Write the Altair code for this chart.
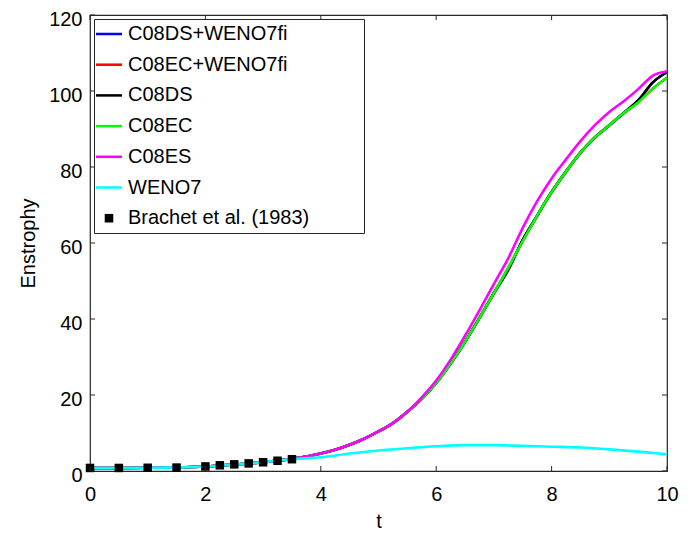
import altair as alt
import pandas as pd

# ---------------- data ----------------
series_names = ["C08DS+WENO7fi", "C08EC+WENO7fi", "C08DS", "C08EC", "C08ES", "WENO7",
                "Brachet et al. (1983)"]
series_colors = ["#0000FF", "#FF0000", "#000000", "#00FF00", "#FF00FF", "#00FFFF", "#000000"]

t_main = [0, 0.5, 1, 1.5, 2, 2.5, 3, 3.5, 4, 4.25, 4.5, 4.75, 5, 5.25, 5.5, 5.75,
          6, 6.25, 6.5, 6.75, 7, 7.25, 7.5, 7.75, 8, 8.25, 8.5, 8.75, 9, 9.25, 9.5, 9.75, 10]

c08ds_weno7fi = [0.8, 0.8, 0.85, 0.95, 1.2, 1.7, 2.3, 3.2, 4.6, 5.6, 6.9, 8.5, 10.4, 12.6, 15.6, 19.0,
                 23.2, 28.3, 34.0, 40.3, 46.8, 53.0, 60.8, 67.2, 73.4, 78.8, 83.8, 87.8, 91.0, 94.2, 97.5, 102.2, 105.0]
c08ec_weno7fi = [0.8, 0.8, 0.85, 0.95, 1.2, 1.7, 2.3, 3.2, 4.6, 5.6, 6.9, 8.5, 10.4, 12.6, 15.6, 19.0,
                 23.2, 28.3, 34.0, 40.3, 46.8, 53.5, 60.5, 67.2, 73.4, 78.8, 83.8, 87.8, 91.0, 94.2, 97.0, 100.6, 103.5]
c08ds = [0.8, 0.8, 0.85, 0.95, 1.2, 1.7, 2.3, 3.2, 4.6, 5.6, 6.9, 8.5, 10.4, 12.6, 15.6, 19.0,
         23.2, 28.3, 34.0, 40.3, 46.8, 53.0, 60.8, 67.2, 73.4, 78.8, 83.8, 87.8, 91.0, 94.2, 97.5, 102.2, 105.0]
c08ec = [0.8, 0.8, 0.85, 0.95, 1.2, 1.7, 2.3, 3.2, 4.6, 5.6, 6.9, 8.5, 10.4, 12.6, 15.6, 19.0,
         23.2, 28.3, 34.0, 40.3, 46.8, 53.5, 60.5, 67.2, 73.4, 78.8, 83.8, 87.8, 91.0, 94.2, 97.0, 100.6, 103.5]
c08es = [0.8, 0.8, 0.85, 0.95, 1.2, 1.7, 2.3, 3.2, 4.6, 5.6, 6.9, 8.5, 10.4, 12.6, 15.6, 19.4,
         23.8, 29.3, 35.6, 42.3, 49.2, 56.0, 64.0, 71.0, 77.0, 82.0, 86.8, 91.0, 94.5, 97.3, 100.5, 104.0, 105.2]

t_weno = [0, 0.5, 1, 1.5, 2, 2.5, 3, 3.5, 4, 4.5, 5, 5.5, 6, 6.5, 7, 7.5, 8, 8.5, 9, 9.5, 10]
weno7 = [0.8, 0.8, 0.85, 0.95, 1.2, 1.7, 2.3, 3.1, 3.6, 4.6, 5.4, 6.0, 6.5, 6.8, 6.8, 6.6, 6.4, 6.2, 5.7, 5.1, 4.4]

t_brachet = [0, 0.5, 1, 1.5, 2, 2.25, 2.5, 2.75, 3, 3.25, 3.5]
brachet = [0.8, 0.8, 0.85, 0.9, 1.2, 1.5, 1.75, 2.0, 2.3, 2.7, 3.1]

x_ticks = [0, 2, 4, 6, 8, 10]
y_ticks = [0, 20, 40, 60, 80, 100, 120]

# ---------------- tables ----------------
line_values = {
    "C08DS+WENO7fi": (t_main, c08ds_weno7fi),
    "C08EC+WENO7fi": (t_main, c08ec_weno7fi),
    "C08DS": (t_main, c08ds),
    "C08EC": (t_main, c08ec),
    "C08ES": (t_main, c08es),
    "WENO7": (t_weno, weno7),
}
rows = []
for name, (ts, vs) in line_values.items():
    for t, v in zip(ts, vs):
        rows.append({"series": name, "t": t, "E": v})
lines_df = pd.DataFrame(rows)
brachet_df = pd.DataFrame({"t": t_brachet, "E": brachet, "series": "Brachet et al. (1983)"})
xt_df = pd.DataFrame({"v": x_ticks})
yt_df = pd.DataFrame({"v": y_ticks})

W, H = 577, 456
FONT = "Liberation Sans"
FRAME = "#262626"

xscale = alt.Scale(domain=[0, 10], nice=False, zero=False)
yscale = alt.Scale(domain=[0, 120], nice=False, zero=False)

x_enc = alt.X("t:Q", scale=xscale,
              axis=alt.Axis(values=x_ticks, format="d", title="t", grid=False, ticks=False, tickSize=0,
                            domain=False, labelFlush=False, labelFontSize=20, labelPadding=13,
                            labelFont=FONT, labelColor="#000000", titleFontSize=20, titleFont=FONT,
                            titleFontWeight="normal", titleColor="#000000",
                            titleX=W / 2, titleY=56, titleBaseline="alphabetic"))
y_enc = alt.Y("E:Q", scale=yscale,
              axis=alt.Axis(values=y_ticks, format="d", title="Enstrophy", grid=False, ticks=False,
                            tickSize=0, domain=False, labelFlush=False, labelOffset=4,
                            labelFontSize=20, labelPadding=8, labelFont=FONT,
                            labelColor="#000000", titleFontSize=20, titleFont=FONT,
                            titleFontWeight="normal", titleColor="#000000",
                            titleAngle=270, titleX=-62, titleY=H / 2,
                            titleAlign="center", titleBaseline="middle"))

layers = []
for name, color in zip(series_names[:6], series_colors[:6]):
    layers.append(
        alt.Chart(lines_df).transform_filter(alt.datum.series == name)
        .mark_line(color=color, strokeWidth=2.6, interpolate="monotone")
        .encode(x=x_enc, y=y_enc)
    )

bar_path = "M-1.18,-0.115H1.18V0.115H-1.18Z"
sq_path = "M-0.39,-0.39H0.39V0.39H-0.39Z"
shape_range = [bar_path] * 6 + [sq_path]

# trailing blank room in the legend box (spaces kept by a final zero-width char)
PAD = " " * 9 + "\u200b"
legend_kw = dict(title=None, orient="none", legendX=4, legendY=4,
                 symbolSize=484, symbolStrokeWidth=0,
                 labelFontSize=20, labelFont=FONT, labelColor="#000000", labelLimit=0,
                 labelOffset=8, rowPadding=9.7, padding=4,
                 strokeColor=FRAME, fillColor="#FFFFFF",
                 labelExpr="datum.label + '" + PAD + "'")

points = alt.Chart(brachet_df).mark_point(filled=True, size=475, opacity=1).encode(
    x=alt.X("t:Q", scale=xscale),
    y=alt.Y("E:Q", scale=yscale),
    fill=alt.Fill("series:N", scale=alt.Scale(domain=series_names, range=series_colors),
                  legend=alt.Legend(**legend_kw)),
    shape=alt.Shape("series:N", scale=alt.Scale(domain=series_names, range=shape_range),
                    legend=alt.Legend(**legend_kw)),
)

TL = 5
tick_bottom = alt.Chart(xt_df).mark_rule(color=FRAME, strokeWidth=1).encode(
    x=alt.X("v:Q", scale=xscale), y=alt.value(H), y2=alt.value(H - TL))
tick_top = alt.Chart(xt_df).mark_rule(color=FRAME, strokeWidth=1).encode(
    x=alt.X("v:Q", scale=xscale), y=alt.value(0), y2=alt.value(TL))
tick_left = alt.Chart(yt_df).mark_rule(color=FRAME, strokeWidth=1).encode(
    y=alt.Y("v:Q", scale=yscale), x=alt.value(0), x2=alt.value(TL))
tick_right = alt.Chart(yt_df).mark_rule(color=FRAME, strokeWidth=1).encode(
    y=alt.Y("v:Q", scale=yscale), x=alt.value(W), x2=alt.value(W - TL))

chart = alt.layer(*layers, points, tick_bottom, tick_top, tick_left, tick_right).properties(
    width=W, height=H,
    autosize=alt.AutoSizeParams(type="none"),
    padding={"left": 90, "top": 15, "right": 27, "bottom": 64},
    background="#FFFFFF",
).configure_view(stroke=FRAME, strokeWidth=1.2)

chart.save("out.html", embed_options={"renderer": "svg", "actions": False})
